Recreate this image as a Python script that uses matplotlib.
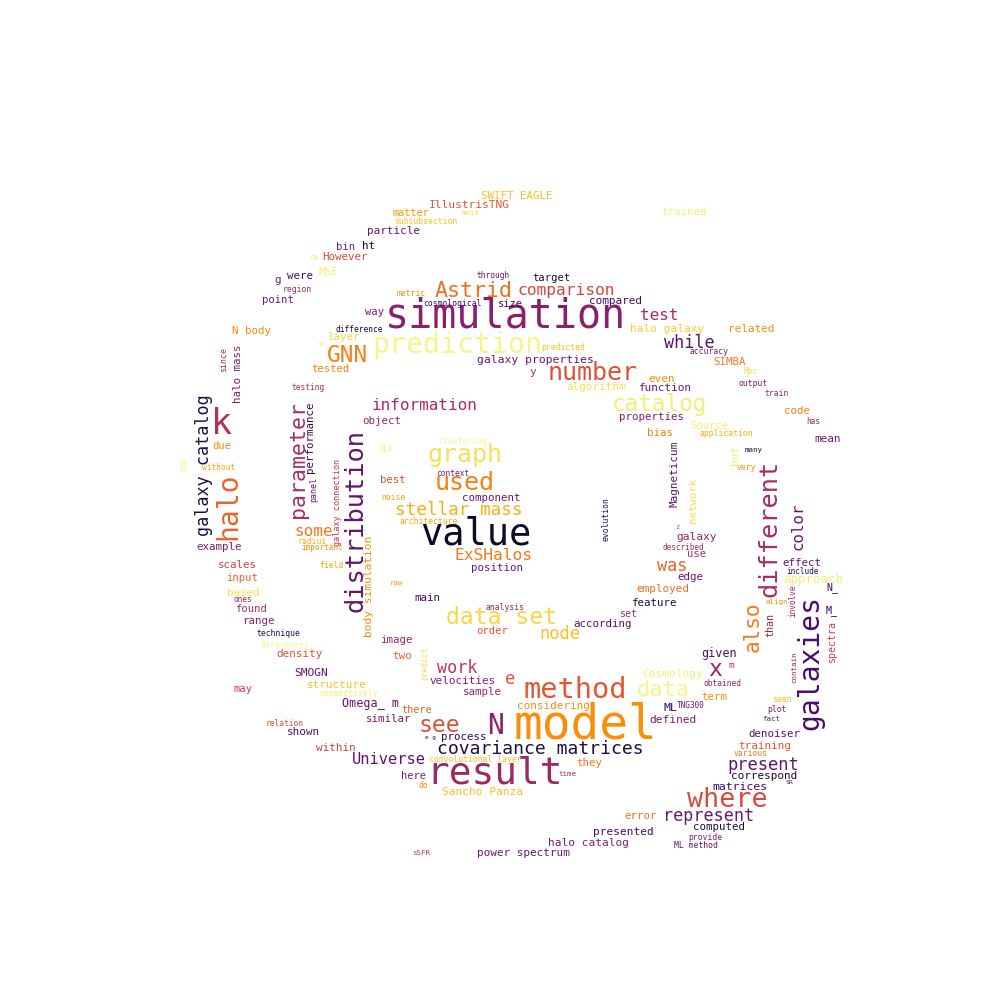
"""
Word cloud of the most frequent terms, drawn as matplotlib text.
"""

import matplotlib

matplotlib.use("Agg")
import matplotlib.pyplot as plt

# words, their centre position (pixels in a 1000x1000 frame), their size
# (em height in pixels, i.e. the weight of the word) and their shade in inferno
words = [
    "simulation", "prediction", "model", "result", "value", "k", "halo", "galaxies",
    "different", "distribution", "method", "number", "where", "graph", "used", "catalog",
    "data set", "GNN", "Astrid", "parameter", "see", "N", "data", "also",
    "x", "covariance matrices", "stellar mass", "comparison", "information", "ExSHalos",
    "galaxy catalog", "Universe", "present", "represent", "node", "work", "test", "while",
    "was", "some", "color", "e", "approach",
    # top arc
    "SWIFT EAGLE", "IllustrisTNG", "matter", "most", "subsubsection", "particle", "bin",
    "ht", "DW", "However", "MSE", "were", "g", "region", "point", "through", "target",
    "metric", "cosmological", "size", "way", "difference", "N body", "layer", "NN",
    "galaxy properties", "predicted", "tested", "y", "since", "halo mass", "testing",
    # centre
    "object", "clustering", "MLP", "context", "best", "noise", "component", "architecture",
    "position", "evolution", "raw", "main", "analysis", "order", "according", "image",
    "two", "predict", "velocities", "sample", "considering", "there", "Omega_ m", "similar",
    "e g", "process", "convolutional layer", "they", "here", "time", "do", "Sancho Panza",
    # bottom arc
    "error", "presented", "halo catalog", "power spectrum", "sSFR", "computed", "provide",
    "ML method", "matrices", "correspond", "SR", "various", "training", "denoiser", "fact",
    "plot", "seen", "defined", "ML", "TNG300", "term", "obtained", "Cosmology", "m", "given",
    # right arc
    "effect", "include", "N_", "align", "involve", "M_", "than", "spectra", "contain",
    "Magneticum", "network", "but", "many", "very", "z", "galaxy", "described", "use",
    "edge", "employed", "feature", "set", "properties", "Source", "application", "bias",
    "code", "has", "mean", "algorithm", "function", "even", "SIMBA", "Mpc", "output",
    "train", "accuracy", "halo galaxy", "related", "compared", "trained",
    # left arc
    "due", "CNN", "without", "performance", "panel", "galaxy connection", "body simulation",
    "radius", "important", "example", "field", "scales", "input", "based", "ones", "found",
    "range", "technique", "References", "density", "SMOGN", "structure", "respectively",
    "may", "relation", "shown", "within",
]

x_px = [
    505, 457, 585, 495, 476, 222, 228, 810,
    770, 356, 575, 593, 727, 465, 465, 660,
    502, 347, 474, 298, 439, 496, 663, 753,
    715, 540, 459, 566, 425, 494,
    204, 389, 763, 709, 560, 457, 659, 689,
    672, 314, 798, 510, 813,
    517, 469, 411, 471, 426, 394, 346,
    369, 315, 345, 328, 300, 278, 297, 278, 493, 551,
    411, 452, 510, 375, 359, 251, 343, 321,
    535, 563, 330, 533, 224, 238, 308,
    382, 463, 387, 453, 393, 393, 491, 429,
    497, 606, 396, 427, 505, 492, 603, 396,
    402, 425, 463, 482, 553, 417, 371, 389,
    430, 464, 475, 589, 413, 567, 423, 482,
    641, 623, 588, 523, 421, 719, 705,
    696, 740, 764, 789, 751, 765, 774, 771,
    777, 782, 673, 670, 691, 714, 722, 673, 731, 719,
    802, 803, 832, 777, 793, 832, 770, 832, 794,
    675, 693, 735, 754, 746, 677, 697, 683, 697,
    690, 663, 655, 628, 652, 709, 726, 660,
    797, 813, 828, 596, 665, 662, 730, 751, 753,
    777, 709, 667, 751, 615, 684,
    222, 185, 219, 310, 314, 338, 369,
    312, 322, 219, 331, 237, 242, 243, 243, 251,
    258, 278, 285, 300, 311, 337, 349,
    243, 285, 303, 336,
]

y_px = [
    316, 345, 725, 773, 534, 424, 506, 662,
    528, 521, 690, 373, 800, 455, 483, 404,
    618, 355, 291, 460, 725, 726, 690, 627,
    670, 749, 510, 290, 406, 556,
    465, 760, 765, 816, 634, 668, 316, 343,
    566, 532, 526, 679, 579,
    196, 205, 213, 213, 222, 231, 247,
    246, 258, 257, 272, 276, 280, 289, 300, 275, 278,
    293, 303, 304, 312, 329, 331, 337, 345,
    360, 347, 369, 372, 360, 374, 388,
    421, 441, 450, 473, 480, 497, 498, 521,
    568, 519, 583, 598, 607, 631, 624, 640,
    656, 663, 681, 692, 706, 710, 703, 719,
    737, 737, 759, 763, 776, 774, 786, 792,
    816, 832, 843, 853, 853, 827, 837,
    846, 787, 776, 782, 754, 746, 734, 719,
    709, 699, 720, 708, 706, 697, 683, 674, 666, 653,
    563, 571, 588, 602, 601, 611, 625, 642, 667,
    474, 500, 455, 450, 468, 527, 537, 547, 554,
    577, 589, 603, 614, 417, 426, 434, 433,
    411, 421, 439, 387, 388, 379, 362, 372, 383,
    394, 352, 329, 329, 301, 212,
    446, 465, 468, 437, 490, 502, 586,
    542, 548, 547, 565, 565, 578, 593, 600, 609,
    621, 634, 645, 654, 673, 685, 693,
    689, 723, 732, 748,
]

size_px = [
    40, 28.3, 47.7, 37.8, 37, 35, 28, 28,
    25.4, 25.4, 28.8, 25, 26.7, 25, 25, 22.6,
    23, 22.8, 21.7, 21.5, 23, 28, 22, 21,
    23, 18, 17.7, 16.3, 16, 16.3,
    16.7, 15.4, 17, 16.8, 17, 16.7, 16, 16.7,
    16.7, 16, 15.7, 17, 12.5,
    10.8, 11.3, 10.3, 7.5, 8, 11, 10.5,
    11, 7, 10.7, 10.5, 10.8, 11, 8, 10.5, 7.9, 10.5,
    8, 8, 10.4, 10.5, 7.9, 10.8, 10.7, 6,
    11.4, 8, 10.5, 11, 8.3, 10.7, 7.9,
    10.8, 8, 7.8, 7.9, 10.5, 8, 10.7, 8,
    10.8, 8, 7.5, 10.8, 8, 10.5, 10.9, 10.7,
    11, 7.9, 11, 10.8, 11, 10.3, 11.7, 10.7,
    6, 10.7, 8, 10.8, 10.4, 7.5, 8, 11.1,
    10.7, 11.1, 11.1, 11, 7.5, 10.8, 8,
    8.1, 11.5, 11, 6.5, 8, 11, 10.8, 7.5,
    8, 8, 11.2, 11.5, 7.8, 10.8, 7.9, 11.1, 9.5, 11.7,
    10.8, 7.7, 10, 7.5, 7.7, 10, 10, 10, 7.5,
    11, 10.7, 11, 7.5, 8, 7, 11.2, 7.8, 10.5,
    10.8, 11, 10.7, 10, 10.8, 10.5, 8, 10.8,
    10.8, 7.8, 11, 11, 11, 11, 10.7, 7.8, 8,
    8, 8.1, 11.1, 11, 11, 10.7,
    10.5, 8, 7.9, 10.8, 8.3, 8.5, 11.3,
    8, 7.7, 10.7, 8, 10.8, 10.5, 10.8, 7.8, 10.5,
    10.7, 8, 8, 11, 11.3, 11, 8,
    10.5, 7.9, 11, 11,
]

shade = [
    0.37, 0.97, 0.75, 0.42, 0.08, 0.47, 0.65, 0.22,
    0.45, 0.28, 0.62, 0.60, 0.58, 0.92, 0.72, 0.95,
    0.90, 0.72, 0.68, 0.45, 0.60, 0.38, 0.97, 0.70,
    0.40, 0.12, 0.82, 0.57, 0.45, 0.70,
    0.12, 0.27, 0.27, 0.30, 0.85, 0.50, 0.45, 0.25,
    0.65, 0.70, 0.30, 0.60, 0.95,
    0.85, 0.62, 0.78, 0.90, 0.85, 0.30, 0.35,
    0.10, 0.95, 0.58, 0.95, 0.20, 0.35, 0.40, 0.30, 0.30, 0.10,
    0.75, 0.20, 0.20, 0.35, 0.10, 0.75, 0.90, 0.97,
    0.30, 0.85, 0.72, 0.45, 0.45, 0.35, 0.45,
    0.40, 0.97, 0.97, 0.35, 0.60, 0.80, 0.30, 0.80,
    0.30, 0.15, 0.75, 0.20, 0.40, 0.62, 0.25, 0.40,
    0.65, 0.92, 0.35, 0.40, 0.75, 0.65, 0.30, 0.35,
    0.15, 0.15, 0.85, 0.70, 0.35, 0.45, 0.75, 0.85,
    0.68, 0.20, 0.35, 0.30, 0.50, 0.12, 0.35,
    0.30, 0.20, 0.10, 0.30, 0.70, 0.62, 0.25, 0.30,
    0.35, 0.85, 0.35, 0.15, 0.30, 0.75, 0.40, 0.95, 0.45, 0.25,
    0.30, 0.15, 0.20, 0.75, 0.40, 0.15, 0.40, 0.55, 0.40,
    0.27, 0.92, 0.95, 0.10, 0.75, 0.60, 0.40, 0.45, 0.45,
    0.30, 0.68, 0.12, 0.45, 0.35, 0.95, 0.82, 0.72,
    0.72, 0.40, 0.30, 0.92, 0.30, 0.75, 0.70, 0.90, 0.35,
    0.40, 0.35, 0.88, 0.75, 0.20, 0.95,
    0.75, 0.97, 0.80, 0.15, 0.30, 0.50, 0.75,
    0.82, 0.75, 0.35, 0.80, 0.55, 0.65, 0.92, 0.40, 0.45,
    0.38, 0.12, 0.97, 0.60, 0.30, 0.85, 0.95,
    0.55, 0.60, 0.25, 0.55,
]

vertical_words = {
    "halo", "galaxies", "different", "distribution", "parameter", "also",
    "galaxy catalog", "color", "since", "halo mass", "evolution", "predict",
    "involve", "than", "spectra", "contain", "Magneticum", "network", "but",
    "CNN", "performance", "panel", "galaxy connection", "body simulation",
}

assert len(words) == len(x_px) == len(y_px) == len(size_px) == len(shade)

DPI = 100
fig = plt.figure(figsize=(10, 10), dpi=DPI)
ax = fig.add_axes([0, 0, 1, 1])
ax.set_xlim(0, 1000)
ax.set_ylim(1000, 0)
ax.axis("off")

cmap = plt.get_cmap("inferno")
for w, x, y, s, c in zip(words, x_px, y_px, size_px, shade):
    ax.text(
        x, y, w,
        fontsize=s * 72 / DPI,
        family="DejaVu Sans Mono",
        color=cmap(c),
        rotation=90 if w in vertical_words else 0,
        ha="center",
        va="center",
    )

fig.savefig("out.png", dpi=DPI, facecolor="white")
plt.close(fig)
